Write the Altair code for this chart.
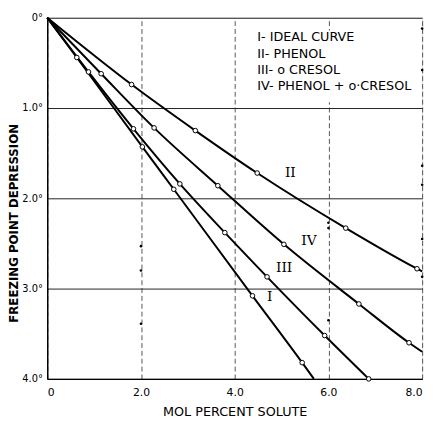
import altair as alt
import pandas as pd

# ---- data ----
I_x = [0, 0.63, 2.03, 2.70, 4.38, 5.44, 5.69]
I_y = [0, 0.44, 1.43, 1.90, 3.08, 3.82, 4.00]
I_m = [False, True, True, True, True, True, False]

II_x = [0, 1.80, 3.16, 4.48, 6.37, 7.89, 8.00]
II_y = [0, 0.74, 1.25, 1.72, 2.33, 2.78, 2.81]
II_m = [False, True, True, True, True, True, False]

III_x = [0, 0.88, 1.84, 2.83, 3.79, 4.69, 5.92, 6.86]
III_y = [0, 0.60, 1.23, 1.84, 2.38, 2.87, 3.52, 4.00]
III_m = [False, True, True, True, True, True, True, True]

IV_x = [0, 1.15, 2.28, 3.64, 5.05, 6.65, 7.72, 8.00]
IV_y = [0, 0.62, 1.22, 1.86, 2.51, 3.17, 3.60, 3.70]
IV_m = [False, True, True, True, True, True, True, False]

curve_labels = ["I", "II", "III", "IV"]
curve_label_x = [4.65, 5.03, 4.84, 5.38]
curve_label_y = [3.09, 1.72, 2.77, 2.47]

legend_lines = ["I- IDEAL CURVE", "II- PHENOL", "III- o CRESOL", "IV- PHENOL + o·CRESOL"]

# small specks on the grid lines of the original sheet
speck_x = [2, 2, 2, 6, 6, 6, 8, 8, 8, 8, 8, 8]
speck_y = [2.53, 2.80, 3.39, 2.27, 2.33, 3.35, 0.12, 0.58, 1.64, 1.85, 2.45, 2.87]

x_ticks = [0, 2, 4, 6, 8]
y_ticks = [0, 1, 2, 3, 4]

# ---- tables ----
rows = []
for name, xs, ys, ms in [("I", I_x, I_y, I_m), ("II", II_x, II_y, II_m),
                         ("III", III_x, III_y, III_m), ("IV", IV_x, IV_y, IV_m)]:
    for i, (a, b, m) in enumerate(zip(xs, ys, ms)):
        rows.append({"series": name, "x": a, "y": b, "marked": m, "order": i})
curves = pd.DataFrame(rows)
labels_df = pd.DataFrame({"t": curve_labels, "x": curve_label_x, "y": curve_label_y})
specks = pd.DataFrame({"x": speck_x, "y": speck_y})
legend_df = pd.DataFrame({"t": ["\n".join(legend_lines)]})

FONT = "DejaVu Sans"

xscale = alt.Scale(domain=[0, 8], nice=False, zero=False)
yscale = alt.Scale(domain=[0, 4], reverse=True, nice=False, zero=False)

xaxis = alt.Axis(
    values=x_ticks, title="MOL PERCENT SOLUTE",
    labelExpr="datum.value == 0 ? '0' : format(datum.value, '.1f')",
    ticks=False, tickSize=0, labelPadding=8, labelFontSize=11,
    grid=True, gridColor="#555", gridDash=[5, 3], gridWidth=1,
    domainColor="black", domainWidth=1.5,
    titleFontSize=13, titleFontWeight="normal", titleY=33, titleBaseline="middle",
    labelColor="black", titleColor="black", labelFont=FONT, titleFont=FONT,
)
yaxis = alt.Axis(
    values=y_ticks, title="FREEZING POINT DEPRESSION",
    labelExpr="datum.value == 0 ? '0°' : format(datum.value, '.1f') + '°'",
    ticks=False, tickSize=0, labelPadding=5, labelFontSize=10,
    grid=True, gridColor="#222", gridWidth=1,
    domainColor="black", domainWidth=1.5,
    titleFontSize=12, titleFontWeight="bold", titleAngle=270,
    titleX=-34, titleY=209, titleAlign="center", titleBaseline="middle",
    labelColor="black", titleColor="black", labelFont=FONT, titleFont=FONT,
)

base = alt.Chart(curves)

box = alt.Chart(legend_df).mark_rect(fill="white").encode(
    x=alt.value(193), x2=alt.value(380), y=alt.value(13), y2=alt.value(86)
)

lines = base.mark_line(color="black", strokeWidth=2, interpolate="monotone").encode(
    x=alt.X("x:Q", scale=xscale, axis=xaxis),
    y=alt.Y("y:Q", scale=yscale, axis=yaxis),
    detail="series:N",
    order="order:Q",
)

points = base.transform_filter("datum.marked").mark_point(
    shape="circle", size=22, filled=True, fill="white", stroke="black", strokeWidth=1, opacity=1
).encode(x="x:Q", y="y:Q")

speck_marks = alt.Chart(specks).mark_circle(size=7, color="black", opacity=1).encode(
    x="x:Q", y="y:Q"
)

curve_text = alt.Chart(labels_df).mark_text(
    font="DejaVu Serif", fontSize=14, color="black", align="left", baseline="middle", dx=2
).encode(x="x:Q", y="y:Q", text="t:N")

legend_text = alt.Chart(legend_df).mark_text(
    font=FONT, fontSize=13, color="black", align="left", baseline="top",
    lineBreak="\n", lineHeight=16.7
).encode(x=alt.value(214), y=alt.value(14), text="t:N")

chart = alt.layer(box, lines, points, speck_marks, curve_text, legend_text).properties(
    width=382, height=368,
    autosize=alt.AutoSizeParams(type="none"),
    padding={"left": 40, "top": 6, "right": 7, "bottom": 40},
).configure_view(stroke=None).configure(background="white")

chart.save("out.html", embed_options={"renderer": "svg", "actions": False})
